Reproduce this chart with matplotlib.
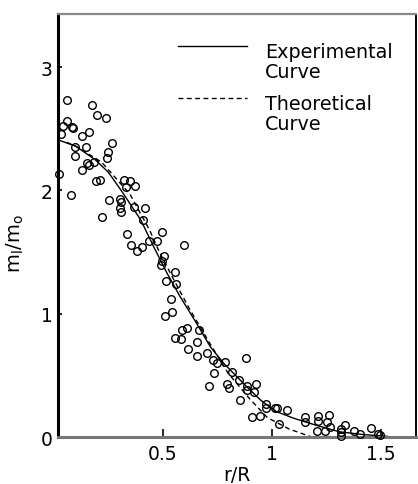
import matplotlib
matplotlib.use("Agg")
import matplotlib.pyplot as plt

plt.rcParams['font.family'] = ['DejaVu Sans']

# scatter data: r/R and m_l/m_o
pts_x = [0.060, 0.177, 0.199, 0.240, 0.060, 0.044, 0.082, 0.090, 0.033, 0.131,
         0.162, 0.266, 0.098, 0.148, 0.251, 0.098, 0.246, 0.151, 0.160, 0.185,
         0.131, 0.024, 0.194, 0.212, 0.322, 0.350, 0.332, 0.373, 0.078, 0.255,
         0.304, 0.307, 0.306, 0.307, 0.370, 0.419, 0.223, 0.410, 0.336, 0.495,
         0.353, 0.383, 0.406, 0.437, 0.474, 0.598, 0.507, 0.495, 0.491, 0.555,
         0.514, 0.560, 0.538, 0.512, 0.544, 0.589, 0.611, 0.667, 0.556, 0.584,
         0.656, 0.616, 0.656, 0.705, 0.732, 0.750, 0.788, 0.737, 0.817, 0.881,
         0.712, 0.795, 0.803, 0.852, 0.855, 0.887, 0.889, 0.928, 0.919, 0.911,
         0.946, 0.972, 0.975, 1.015, 1.024, 1.072, 1.033, 1.153, 1.153, 1.214,
         1.214, 1.261, 1.254, 1.267, 1.206, 1.245, 1.317, 1.317, 1.336, 1.320,
         1.376, 1.405, 1.454, 1.489, 1.497]
pts_y = [2.734, 2.691, 2.610, 2.591, 2.564, 2.523, 2.515, 2.510, 2.460, 2.442,
         2.472, 2.387, 2.355, 2.355, 2.314, 2.280, 2.266, 2.221, 2.209, 2.227,
         2.167, 2.130, 2.078, 2.087, 2.087, 2.078, 2.031, 2.037, 1.964, 1.921,
         1.930, 1.903, 1.861, 1.828, 1.870, 1.854, 1.789, 1.762, 1.649, 1.665,
         1.557, 1.506, 1.541, 1.594, 1.589, 1.557, 1.466, 1.430, 1.393, 1.343,
         1.263, 1.241, 1.120, 0.986, 1.012, 0.869, 0.887, 0.869, 0.802, 0.800,
         0.774, 0.715, 0.661, 0.683, 0.626, 0.599, 0.607, 0.525, 0.531, 0.640,
         0.413, 0.429, 0.397, 0.466, 0.304, 0.413, 0.383, 0.432, 0.369, 0.162,
         0.170, 0.266, 0.239, 0.239, 0.237, 0.223, 0.108, 0.162, 0.128, 0.172,
         0.134, 0.181, 0.128, 0.086, 0.053, 0.049, 0.071, 0.045, 0.100, 0.011,
         0.049, 0.024, 0.074, 0.024, 0.020]

# experimental curve (solid)
exp_x = [0.02, 0.10, 0.19, 0.25, 0.31, 0.40, 0.46, 0.52, 0.58, 0.65, 0.72, 0.78,
         0.88, 0.95, 1.02, 1.10, 1.20, 1.31, 1.42, 1.53]
exp_y = [2.41, 2.36, 2.25, 2.15, 2.00, 1.76, 1.54, 1.33, 1.14, 0.94, 0.73, 0.60,
         0.42, 0.30, 0.21, 0.155, 0.10, 0.045, 0.022, 0.008]

# theoretical curve (dashed)
th_x = [0.06, 0.10, 0.22, 0.29, 0.35, 0.44, 0.48, 0.55, 0.62, 0.72, 0.80, 0.90,
        0.98, 1.08, 1.18]
th_y = [2.39, 2.36, 2.23, 2.09, 1.97, 1.68, 1.52, 1.28, 1.05, 0.75, 0.52, 0.31,
        0.16, 0.067, 0.005]

xticks = [0.5, 1, 1.5]
xticklabels = ['0.5', '1', '1.5']
yticks = [0, 1, 2, 3]
yticklabels = ['0', '1', '2', '3']

fig = plt.figure(figsize=(4.18, 4.85), dpi=100)
ax = fig.add_axes([58/418, 1 - 438.3/485, 358/418, 423.3/485])

ax.plot(exp_x, exp_y, color='black', lw=1.0, zorder=2)
ax.plot(th_x, th_y, color='black', lw=1.0, linestyle=(0, (3.5, 2.5)), zorder=2)
ax.plot(pts_x, pts_y, linestyle='none', marker='o', ms=5.5, mfc='none',
        mec='black', mew=1.0, zorder=3, clip_on=False)

ax.set_xlim(0.02, 1.662)
ax.set_ylim(0, 3.43)

ax.set_xticks(xticks)
ax.set_xticklabels(xticklabels)
ax.set_yticks(yticks)
ax.set_yticklabels(yticklabels)
ax.tick_params(axis='both', direction='in', labelsize=13.5, width=1.2)
ax.tick_params(axis='x', length=6, pad=5)
ax.tick_params(axis='y', length=3, pad=4)

ax.set_xlabel('r/R', fontsize=13.5, labelpad=1)
ax.set_ylabel(r'm$_\mathregular{l}$/m$_\mathregular{o}$', fontsize=14)
ax.yaxis.set_label_coords(-0.09, 0.46)

ax.spines['left'].set_linewidth(2.2)
ax.spines['left'].set_color('black')
ax.spines['right'].set_linewidth(1.4)
ax.spines['right'].set_color('black')
ax.spines['bottom'].set_linewidth(2.2)
ax.spines['bottom'].set_color('#777777')
ax.spines['top'].set_linewidth(1.6)
ax.spines['top'].set_color('#888888')

# legend drawn in axes coordinates
ax.plot([0.335, 0.528], [0.925, 0.925], color='black', lw=1.0, transform=ax.transAxes)
ax.plot([0.335, 0.528], [0.801, 0.801], color='black', lw=1.0,
        linestyle=(0, (3.5, 2.5)), transform=ax.transAxes)
for txt, yy in [('Experimental', 0.898), ('Curve', 0.851),
                ('Theoretical', 0.775), ('Curve', 0.728)]:
    ax.text(0.578, yy, txt, transform=ax.transAxes, fontsize=13.8,
            va='baseline', ha='left')

fig.savefig('out.png', dpi=100)
